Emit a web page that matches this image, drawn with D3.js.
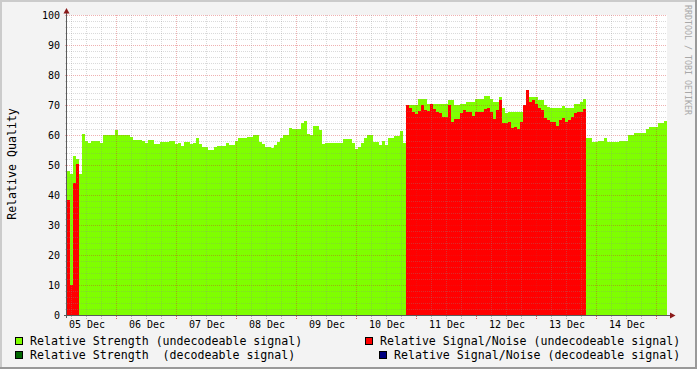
<!DOCTYPE html>
<meta charset="utf-8">
<script src="https://d3js.org/d3.v7.min.js"></script>
<style>
  body { margin: 0; background: #f3f3f3; }
  svg { display: block; }
</style>
<div id="chart"></div>
<script>
// one sample every 72 minutes, first one on 05 Dec 04:00
var startTime = Date.UTC(2011, 11, 5, 4, 0);
var stepMinutes = 72;
var spanHours = 240;

// Relative Strength (undecodeable signal)
var strength = [
  48, 47, 53, 52, 47, 60.5, 58, 57.5, 58, 58,
  58, 57.3, 60, 60, 60, 60, 61.7, 60, 60, 60,
  60, 59.3, 58.5, 58.5, 58.5, 58, 57.3, 58.3, 58.3, 57,
  57, 57.7, 57.7, 57.7, 58, 58, 57, 57.5, 56.5, 57.7,
  57.7, 57, 57.5, 59, 57, 56, 56, 55, 55, 56,
  56.2, 56.2, 56.2, 57.3, 56.7, 56.7, 58, 59.1, 59.1, 59.1,
  59.4, 59.4, 60, 60, 57.8, 57, 56, 56, 55.5, 56.7,
  57.8, 59, 60, 60, 62.3, 62, 62, 62, 64, 64.5,
  60.5, 60, 63, 63, 61.7, 57, 57.2, 57.2, 57.2, 57.2,
  57.5, 57.5, 58.6, 58.6, 58.6, 57.2, 55.3, 56, 57.2, 58.9,
  60, 60, 57.8, 57.8, 56.7, 58, 56.7, 59, 59, 59.7,
  59.7, 61.4, 57.4, 70, 70, 70, 70, 72, 72, 72,
  70.5, 70.5, 70.3, 70.3, 70.3, 70.3, 70.3, 71.7, 71.7, 70,
  70, 70.3, 70.3, 71, 71, 71, 72, 72, 72, 73,
  73, 72, 71, 71, 72.6, 69, 67.2, 67.8, 67.8, 67.8,
  67.5, 67.8, 70, 71.7, 72.8, 72.8, 72.8, 71.7, 71.7, 70,
  69.4, 68.9, 68.9, 68.9, 68.9, 69.7, 68.9, 68.9, 68.9, 70.5,
  70.5, 71.1, 71.9, 58.9, 58.9, 57.8, 57.8, 58, 58, 58.9,
  57.8, 57.8, 57.8, 57.8, 58, 58, 58, 60, 60, 60.6,
  60.6, 60.6, 60.6, 61.9, 62.8, 62.8, 62.8, 63.9, 63.9, 64.7
];

// Relative Signal/Noise (undecodeable signal), null = no value
var snr = [
  38.5, 10, 44, 50.5, null, null, null, null, null, null,
  null, null, null, null, null, null, null, null, null, null,
  null, null, null, null, null, null, null, null, null, null,
  null, null, null, null, null, null, null, null, null, null,
  null, null, null, null, null, null, null, null, null, null,
  null, null, null, null, null, null, null, null, null, null,
  null, null, null, null, null, null, null, null, null, null,
  null, null, null, null, null, null, null, null, null, null,
  null, null, null, null, null, null, null, null, null, null,
  null, null, null, null, null, null, null, null, null, null,
  null, null, null, null, null, null, null, null, null, null,
  null, null, null, 70, 68.9, 67.8, 67, 68, 70, 68.3,
  68, 70.3, 68.5, 67.8, 67.2, 66, 66, 70, 64.4, 65.3,
  65.3, 67.3, 68.3, 67.5, 67.5, 66.3, 67.8, 67.8, 67.8, 68.5,
  68.9, 67.5, 65.5, 68.3, 71.7, 64, 64, 64.3, 62.5, 62.8,
  62, 64.4, 70, 75, 71, 71.7, 70.5, 69, 68.3, 65.6,
  65, 64.4, 64.4, 63, 65, 65.6, 64.4, 65, 66, 67.2,
  67.8, 67.8, 68.5, null, null, null, null, null, null, null,
  null, null, null, null, null, null, null, null, null, null,
  null, null, null, null, null, null, null, null, null, null
];

var yTicks = [0, 10, 20, 30, 40, 50, 60, 70, 80, 90, 100];
var yTitle = "Relative Quality";
var legendLabels = [
  "Relative Strength (undecodeable signal)",
  "Relative Signal/Noise (undecodeable signal)",
  "Relative Strength  (decodeable signal)",
  "Relative Signal/Noise (decodeable signal)"
];
var watermark = "RRDTOOL / TOBI OETIKER";

var width = 697, height = 369;
var plot = {left: 67, right: 667, top: 15, bottom: 315};
var font = "'DejaVu Sans Mono', monospace";
var colors = ["#7fff00", "#ff0000", "#006600", "#000080"];

var svg = d3.select("#chart")
  .append("svg")
    .attr("width", width)
    .attr("height", height);

// frame and canvas
svg.append("rect").attr("width", width).attr("height", height).attr("fill", "#f3f3f3");
svg.append("path").attr("d", "M0,1H697M1,0V369").attr("stroke", "#cbcbcb").attr("stroke-width", 2);
svg.append("path").attr("d", "M0,368H697M696,0V369").attr("stroke", "#999999").attr("stroke-width", 2);
svg.append("rect")
  .attr("x", plot.left).attr("y", plot.top)
  .attr("width", plot.right - plot.left).attr("height", plot.bottom - plot.top)
  .attr("fill", "#ffffff");

var t0 = new Date(startTime);
var t1 = new Date(startTime + spanHours * 3600e3);
var x = d3.scaleUtc().domain([t0, t1]).range([plot.left, plot.right]);
var y = d3.scaleLinear().domain([0, 100]).range([plot.bottom, plot.top]);

function sampleTime(i) { return new Date(startTime + i * stepMinutes * 60e3); }

function drawSeries(values, color) {
  var pts = values.map(function(v, i) { return {v: v, i: i}; })
    .filter(function(d) { return d.v != null; });
  svg.append("g")
    .attr("shape-rendering", "crispEdges")
    .selectAll("rect")
    .data(pts)
    .enter()
    .append("rect")
      .attr("x", function(d) { return x(sampleTime(d.i)); })
      .attr("width", function(d) { return x(sampleTime(d.i + 1)) - x(sampleTime(d.i)); })
      .attr("y", function(d) { return Math.round(y(d.v)); })
      .attr("height", function(d) { return y(0) - Math.round(y(d.v)); })
      .attr("fill", color);
}
drawSeries(strength, colors[0]);
drawSeries(snr, colors[1]);

// grid on top of the data, like rrdtool does
var grid = svg.append("g").attr("fill", "none").attr("stroke-dasharray", "1,1");
var minorColor = "rgba(140,140,140,0.32)";
var majorColor = "rgba(210,40,40,0.36)";

d3.range(0, 101, 2).forEach(function(v) {
  var yy = Math.round(y(v)) + 0.5;
  var major = v % 10 === 0;
  grid.append("line")
    .attr("x1", plot.left - 2).attr("x2", plot.right)
    .attr("y1", yy).attr("y2", yy)
    .attr("stroke", major ? majorColor : minorColor);
});

x.ticks(d3.utcHour.every(6)).forEach(function(t) {
  var xx = Math.round(x(t)) - 0.5;
  var major = t.getUTCHours() === 0;
  grid.append("line")
    .attr("x1", xx).attr("x2", xx)
    .attr("y1", plot.top).attr("y2", plot.bottom)
    .attr("stroke", major ? majorColor : minorColor);
  grid.append("line")
    .attr("x1", xx).attr("x2", xx)
    .attr("y1", plot.bottom + 1).attr("y2", plot.bottom + 4)
    .attr("stroke", major ? "rgba(200,40,40,0.7)" : "rgba(140,140,140,0.6)")
    .attr("stroke-dasharray", null);
});

// axes with arrows
svg.append("line")
  .attr("x1", plot.left - 0.5).attr("x2", plot.left - 0.5)
  .attr("y1", plot.bottom + 3).attr("y2", 10)
  .attr("stroke", "#5a5a5a");
svg.append("line")
  .attr("x1", plot.left - 3).attr("x2", 672)
  .attr("y1", plot.bottom + 0.5).attr("y2", plot.bottom + 0.5)
  .attr("stroke", "#5a5a5a");
svg.append("path")
  .attr("d", "M63.5,13.5L66.5,8L69.5,13.5Z")
  .attr("fill", "#8b1a1a");
svg.append("path")
  .attr("d", "M670,312.5L675.5,315.5L670,318.5Z")
  .attr("fill", "#8b1a1a");

// y labels
svg.append("g")
  .selectAll("text")
  .data(yTicks)
  .enter()
  .append("text")
    .attr("x", 60)
    .attr("y", function(d) { return y(d) + 3.5; })
    .attr("text-anchor", "end")
    .style("font-family", font)
    .style("font-size", "10px")
    .attr("fill", "#000")
    .text(function(d) { return d; });

// x labels at noon of each day
var fmt = d3.utcFormat("%d %b");
var noons = d3.utcDay.range(d3.utcDay.floor(t0), t1)
  .map(function(d) { return d3.utcHour.offset(d, 12); })
  .filter(function(d) { return d >= t0 && d <= t1; });
svg.append("g")
  .selectAll("text")
  .data(noons)
  .enter()
  .append("text")
    .attr("x", function(d) { return x(d); })
    .attr("y", 328)
    .attr("text-anchor", "middle")
    .style("font-family", font)
    .style("font-size", "10px")
    .attr("fill", "#000")
    .text(function(d) { return fmt(d); });

// y title
svg.append("text")
  .attr("transform", "translate(16,164) rotate(-90)")
  .attr("text-anchor", "middle")
  .style("font-family", font)
  .style("font-size", "11.6px")
  .attr("fill", "#000")
  .text(yTitle);

// watermark
svg.append("text")
  .attr("transform", "translate(684.5,5) rotate(90)")
  .style("font-family", font)
  .style("font-size", "8.3px")
  .attr("fill", "#a8a8a8")
  .text(watermark);

// legend
var legendPos = [[15, 337, 30], [365, 337, 380], [15, 351, 30], [379, 351, 394]];
legendLabels.forEach(function(label, i) {
  var p = legendPos[i];
  svg.append("rect")
    .attr("x", p[0] + 0.5).attr("y", p[1] + 0.5)
    .attr("width", 7).attr("height", 7)
    .attr("fill", colors[i])
    .attr("stroke", "#000");
  svg.append("text")
    .attr("x", p[2]).attr("y", p[1] + 8)
    .attr("xml:space", "preserve")
    .style("white-space", "pre")
    .style("font-family", font)
    .style("font-size", "11.6px")
    .attr("fill", "#000")
    .text(label);
});
</script>
